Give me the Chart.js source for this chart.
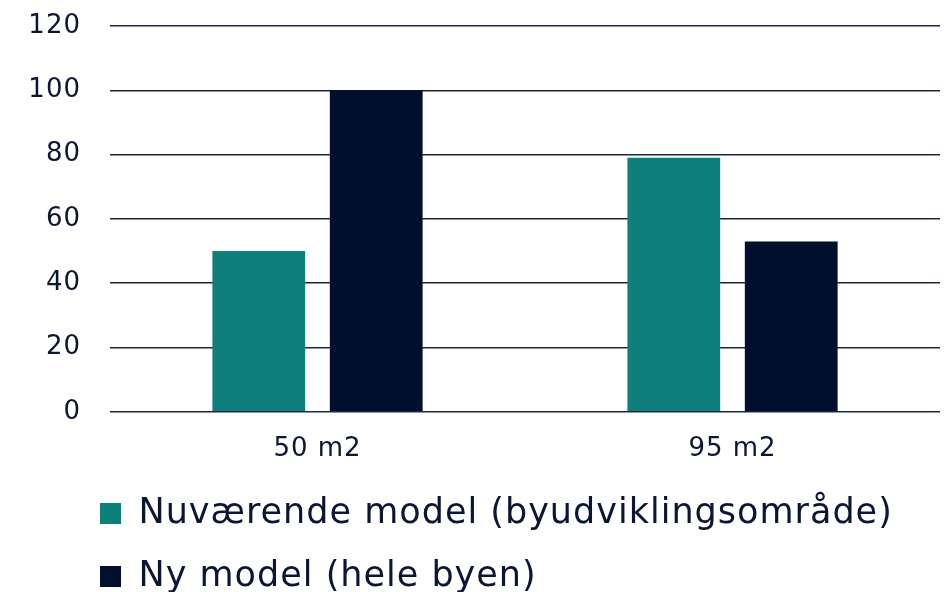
<!DOCTYPE html>
<html>
<head>
<meta charset="utf-8">
<script src="https://cdn.jsdelivr.net/npm/chart.js@4/dist/chart.umd.min.js"></script>
<style>
  html, body { margin: 0; padding: 0; background: #ffffff; }
  #wrap { width: 948px; height: 592px; }
</style>
</head>
<body>
<div id="wrap"><canvas id="myChart" width="948" height="592"></canvas></div>
<script>
// values
const categories = ['50 m2', '95 m2'];
const currentModel = [50, 79];   // Nuværende model (byudviklingsområde)
const newModel = [100, 53];      // Ny model (hele byen)
const seriesNames = ['Nuværende model (byudviklingsområde)', 'Ny model (hele byen)'];
const yTicks = [0, 20, 40, 60, 80, 100, 120];

const textColor = '#0b1633';
const fontFamily = '"DejaVu Sans", sans-serif';

// the reference font runs wide, so space the letters out a bit
// and push the legend rows to the right so they line up like the reference
const chartTweaks = {
  id: 'chartTweaks',
  beforeLayout(chart) {
    chart.ctx.letterSpacing = '1px';
  },
  afterLayout(chart) {
    chart.legend.left += 72;
  },
  beforeDraw(chart) {
    chart.ctx.letterSpacing = '1px';
  }
};

const ctx = document.getElementById('myChart').getContext('2d');

new Chart(ctx, {
  type: 'bar',
  data: {
    labels: categories,
    datasets: [{
      label: seriesNames[0],
      data: currentModel,
      backgroundColor: '#0e7f7b',
      categoryPercentage: 0.566,
      barPercentage: 0.79
    }, {
      label: seriesNames[1],
      data: newModel,
      backgroundColor: '#000f2d',
      categoryPercentage: 0.566,
      barPercentage: 0.79
    }]
  },
  options: {
    responsive: false,
    animation: false,
    layout: {
      padding: { top: 26, right: 8, left: 0, bottom: -12 }
    },
    scales: {
      x: {
        afterFit: (scale) => { scale.height -= 11; },
        grid: { display: false },
        border: { display: false },
        ticks: {
          color: textColor,
          padding: 14,
          font: { family: fontFamily, size: 26 }
        }
      },
      y: {
        min: 0,
        max: 120,
        afterFit: (scale) => {
          scale.width = 110;
          scale.paddingTop = 0;
          scale.paddingBottom = 0;
        },
        afterBuildTicks: (scale) => { scale.ticks = yTicks.map(v => ({ value: v })); },
        grid: {
          color: '#1c2745',
          lineWidth: 1.5,
          drawTicks: false
        },
        border: { display: false },
        ticks: {
          color: textColor,
          padding: 29,
          font: { family: fontFamily, size: 26 }
        }
      }
    },
    plugins: {
      legend: {
        position: 'bottom',
        align: 'start',
        labels: {
          color: textColor,
          boxWidth: 21,
          boxHeight: 21,
          padding: 28,
          font: { family: fontFamily, size: 35 }
        }
      },
      tooltip: { enabled: false }
    }
  },
  plugins: [chartTweaks]
});
</script>
</body>
</html>
